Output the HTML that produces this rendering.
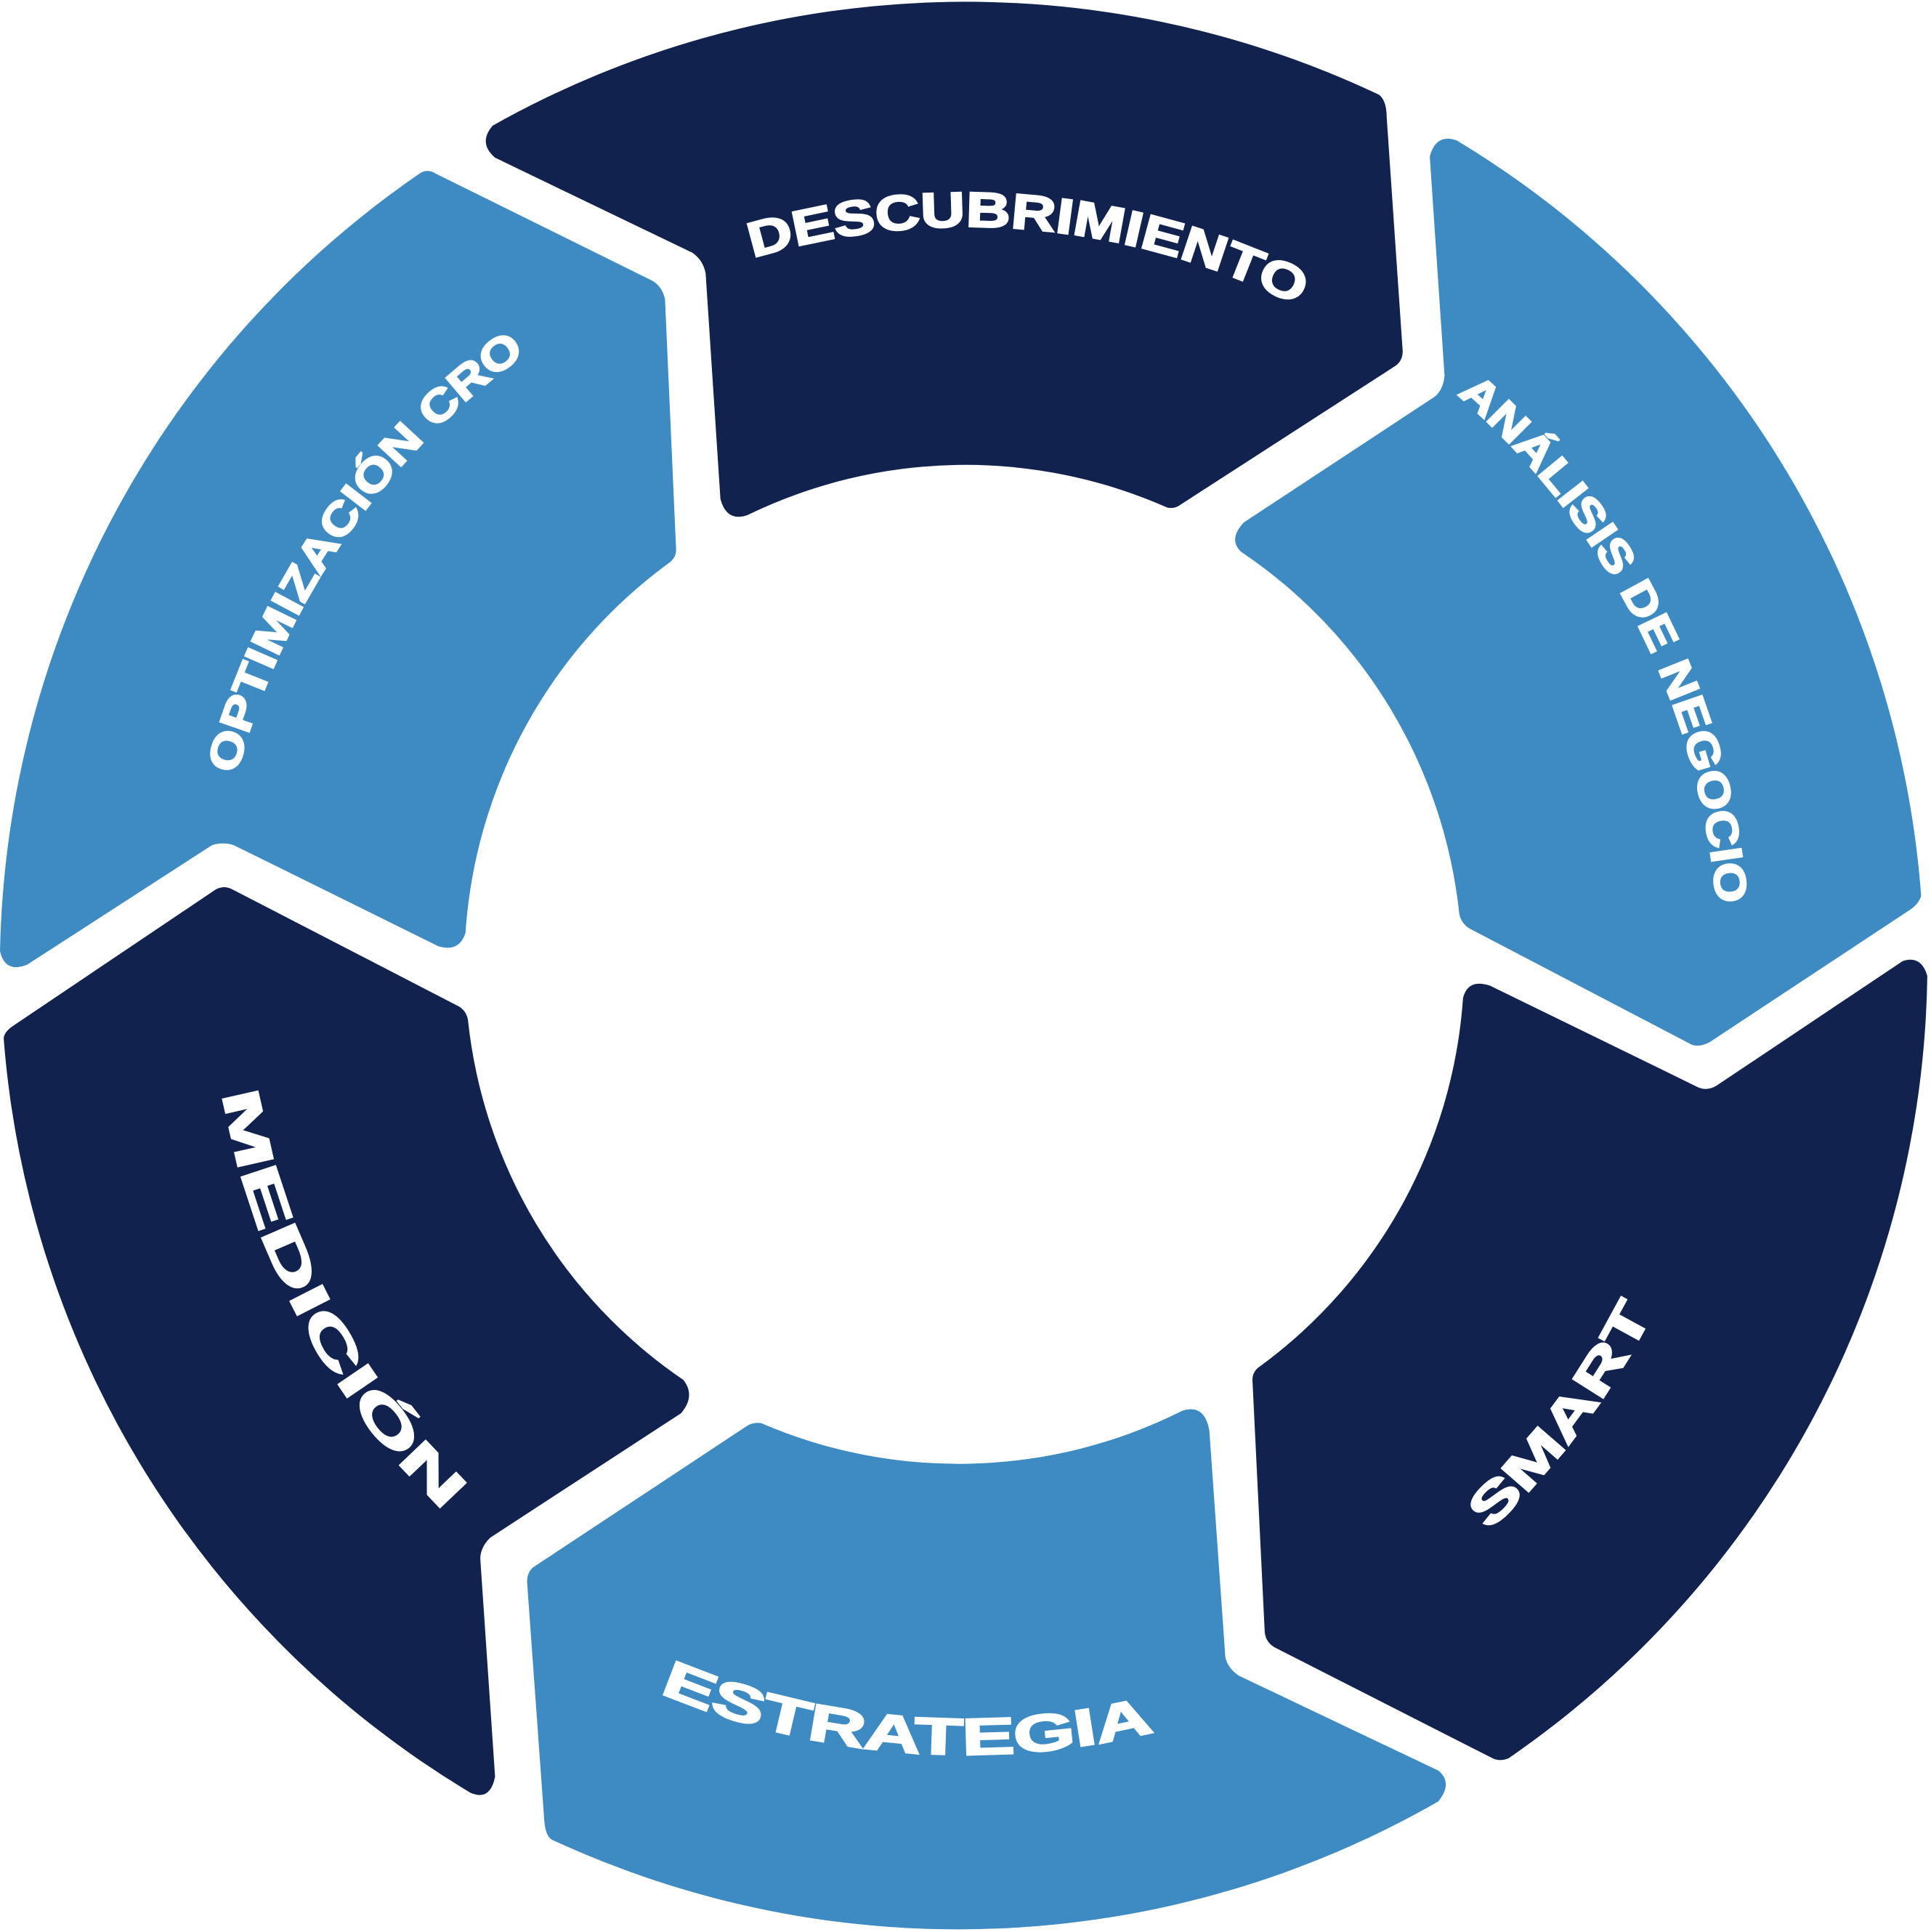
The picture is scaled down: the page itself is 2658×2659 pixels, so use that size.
<!DOCTYPE html>
<html><head><meta charset="utf-8"><style>html,body{margin:0;padding:0;background:#fff;overflow:hidden;width:2658px;height:2659px;}svg{display:block;position:absolute;left:0;top:0;}</style></head>
<body>
<svg width="2658" height="2659" viewBox="0 0 1568 1568" preserveAspectRatio="none" xmlns="http://www.w3.org/2000/svg">
<path fill="#11224f" d="M400,102 A 784 784 0 0 1 1120,77 Q1126,82 1126,95 L1139,285 Q1139,293 1133,297 L958,410 Q954,413 948,412 A 405 405 0 0 0 607,418 Q590,424 585,405 L573,222 Q571,211 562,205 L402,128 Q388,116 400,102 Z"/>
<path fill="#3d8bc2" d="M1161,127 Q1166,108 1183,114 A 784 784 0 0 1 1560,727 Q1558,734 1550,739 L1388,846 Q1380,850 1374,848 L1196,755 Q1187,751 1185,742 A 405 405 0 0 0 1008,448 Q997,438 1010,424 L1165,322 Q1172,316 1173,305 Z"/>
<path fill="#11224f" d="M1545,780 Q1560,775 1565,792 A 784 784 0 0 1 1225,1427 Q1218,1430 1212,1427 L1035,1337 Q1028,1333 1027,1325 L1017,1120 Q1017,1113 1023,1109 A 405 405 0 0 0 1188,810 Q1192,794 1210,800 L1378,882 Q1386,886 1394,881 Z"/>
<path fill="#3d8bc2" d="M1168,1437 Q1180,1447 1168,1462 A 784 784 0 0 1 448,1493 Q443,1490 442,1478 L428,1284 Q428,1276 433,1272 L607,1157 Q612,1154 618,1155 A 405 405 0 0 0 960,1145 Q978,1139 982,1161 L995,1345 Q997,1354 1006,1360 Z"/>
<path fill="#11224f" d="M382,1455 A 784 784 0 0 1 3,843 Q3,838 10,833 L175,722 Q182,718 189,722 L373,817 Q379,821 380,828 A 405 405 0 0 0 555,1120 Q565,1133 553,1147 L398,1248 Q390,1256 390,1265 L402,1442 Q398,1462 382,1455 Z"/>
<path fill="#3d8bc2" d="M22,783 Q4,790 0,772 A 784 784 0 0 1 342,140 Q348,137 354,141 L530,228 Q538,233 540,243 L549,446 Q549,453 543,457 A 405 405 0 0 0 378,757 Q373,773 356,768 L190,686 Q181,683 172,686 Z"/>

<g fill="#fff" stroke="#fff" stroke-width="1.5" font-family="Liberation Sans, sans-serif" font-weight="bold" font-size="40" text-anchor="middle">
<path id="c1" fill="none" stroke="none" d="M 184 784 A 600 600 0 1 1 184 784.1" transform="rotate(-85 784 784)"/>
<text><textPath href="#c1" startOffset="50%" textLength="455" lengthAdjust="spacingAndGlyphs">DESCUBRIMIENTO</textPath></text>
<path id="c2" fill="none" stroke="none" d="M 172 784 A 612 612 0 1 1 172 784.1" transform="rotate(-27 784 784)"/>
<text font-size="36"><textPath href="#c2" startOffset="50%" textLength="476" lengthAdjust="spacingAndGlyphs">ANÁLISIS DE NEGOCIO</textPath></text>
<path id="c6" fill="none" stroke="none" d="M 172 784 A 612 612 0 1 1 172 784.1" transform="rotate(-145.5 784 784)"/>
<text font-size="36"><textPath href="#c6" startOffset="50%" textLength="423" lengthAdjust="spacingAndGlyphs">OPTIMIZACIÓN CRO</textPath></text>
<path id="c3" fill="none" stroke="none" d="M 159 784 A 625 625 0 1 0 159 783.9" transform="rotate(37 784 784)"/>
<text font-size="42"><textPath href="#c3" startOffset="50%" textLength="222" lengthAdjust="spacingAndGlyphs">SMART</textPath></text>
<path id="c4" fill="none" stroke="none" d="M 144 784 A 640 640 0 1 0 144 783.9" transform="rotate(94.5 784 784)"/>
<text font-size="42"><textPath href="#c4" startOffset="50%" textLength="410" lengthAdjust="spacingAndGlyphs">ESTRATEGIA</textPath></text>
<path id="c5" fill="none" stroke="none" d="M 172 784 A 612 612 0 1 0 172 783.9" transform="rotate(152 784 784)"/>
<text font-size="42"><textPath href="#c5" startOffset="50%" textLength="390" lengthAdjust="spacingAndGlyphs">MEDICIÓN</textPath></text>
</g>
</svg>
</body></html>
